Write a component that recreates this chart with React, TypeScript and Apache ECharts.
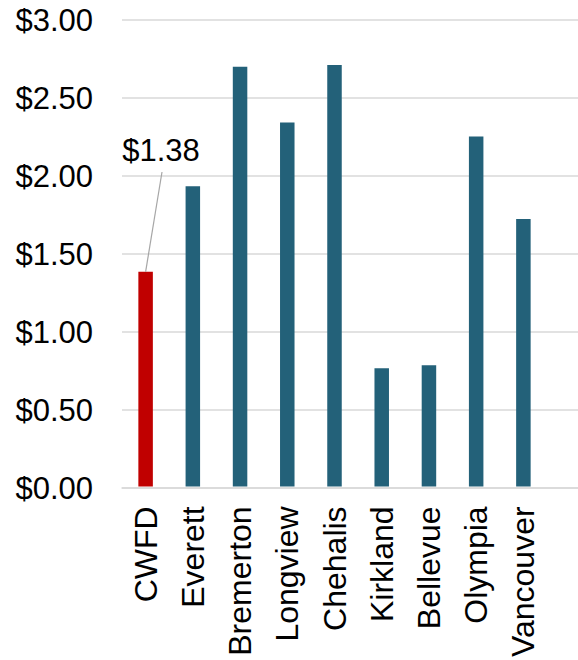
import React, { useEffect, useRef } from "react";
import * as echarts from "echarts";

const categories = ["CWFD", "Everett", "Bremerton", "Longview", "Chehalis", "Kirkland", "Bellevue", "Olympia", "Vancouver"];
const values = [1.38, 1.93, 2.70, 2.34, 2.71, 0.76, 0.78, 2.25, 1.72];
const highlightCategory = "CWFD";
const yTicks = { min: 0, max: 3, interval: 0.5 };

const FONT = "'Liberation Sans', Arial, sans-serif";

export default function App() {
  const ref = useRef<HTMLDivElement>(null);
  useEffect(() => {
    if (!ref.current) return;
    const chart = echarts.init(ref.current, undefined, { renderer: "svg" });
    const hi = categories.indexOf(highlightCategory);
    const data = categories.map((c, i) => {
      if (i === hi) {
        return {
          value: values[i],
          itemStyle: { color: "#c00000" },
          label: {
            show: true,
            position: "top",
            formatter: (p: any) => "$" + Number(p.value).toFixed(2),
            fontSize: 31,
            color: "#000",
            fontFamily: FONT,
          },
        };
      }
      return { value: values[i] };
    });
    chart.setOption({
      animation: false,
      backgroundColor: "#fff",
      grid: [
        { left: 122, right: 0, top: 20, bottom: 172 },
        { left: 122, right: 31, top: 20, bottom: 172 },
      ],
      xAxis: [
        {
          type: "value",
          gridIndex: 0,
          min: 0,
          max: 1,
          axisLine: { show: true, onZero: false, lineStyle: { color: "#d9d9d9", width: 1.5 } },
          axisTick: { show: false },
          axisLabel: { show: false },
          splitLine: { show: false },
        },
        {
          type: "category",
          gridIndex: 1,
          data: categories,
          axisLine: { show: false },
          axisTick: { show: false },
          axisLabel: {
            rotate: 90,
            interval: 0,
            margin: 20,
            fontSize: 32,
            color: "#000",
            fontFamily: FONT,
          },
        },
      ],
      yAxis: [
        {
          type: "value",
          gridIndex: 0,
          min: yTicks.min,
          max: yTicks.max,
          interval: yTicks.interval,
          axisLine: { show: false },
          axisTick: { show: false },
          axisLabel: {
            margin: 29,
            fontSize: 31,
            color: "#000",
            fontFamily: FONT,
            formatter: (v: number) => "$" + v.toFixed(2),
          },
          splitLine: { show: true, lineStyle: { color: "#d9d9d9", width: 1.5 } },
        },
        {
          type: "value",
          gridIndex: 1,
          min: yTicks.min,
          max: yTicks.max,
          interval: yTicks.interval,
          show: false,
          splitLine: { show: false },
        },
      ],
      series: [
        {
          type: "bar",
          xAxisIndex: 1,
          yAxisIndex: 1,
          barWidth: 14.5,
          data,
          itemStyle: { color: "#236179" },
          labelLayout: (p: any) =>
            p.dataIndex === hi ? { x: 161, y: 150, align: "center", verticalAlign: "middle" } : {},
          markLine: {
            silent: true,
            symbol: "none",
            label: { show: false },
            lineStyle: { color: "#a6a6a6", width: 1.2, type: "solid" },
            data: [[{ coord: [highlightCategory, values[hi]] }, { x: 162, y: 172 }]],
          },
        },
      ],
    });
    return () => chart.dispose();
  }, []);
  return <div ref={ref} style={{ position: "absolute", left: 0, top: 0, width: 578, height: 660 }} />;
}
